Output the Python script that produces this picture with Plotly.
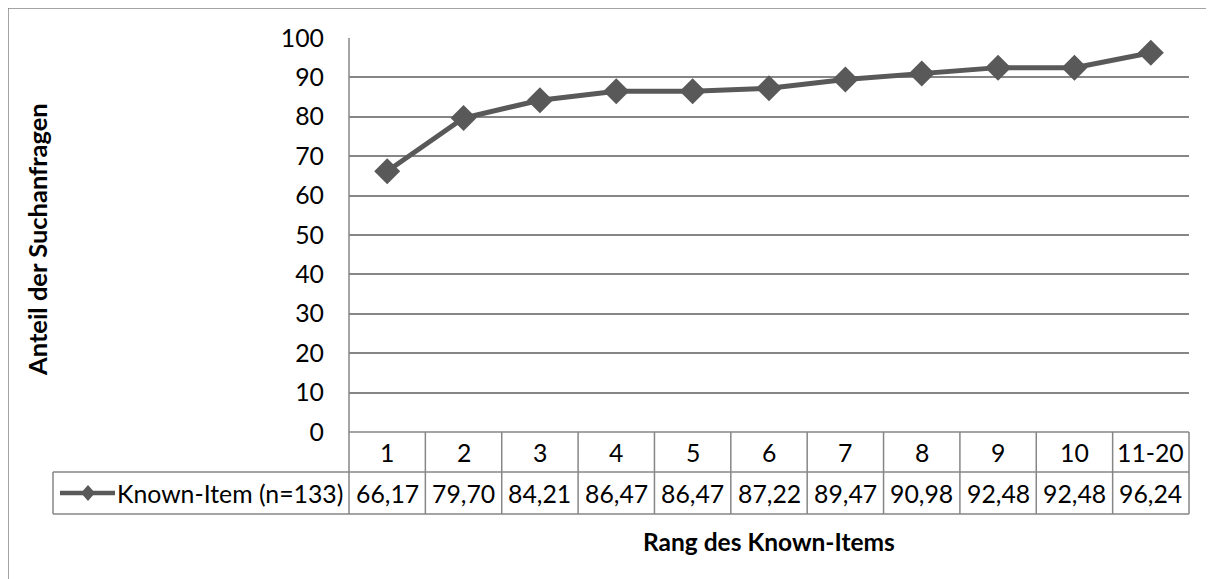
import plotly.graph_objects as go

categories = ["1", "2", "3", "4", "5", "6", "7", "8", "9", "10", "11-20"]
values = [66.17, 79.70, 84.21, 86.47, 86.47, 87.22, 89.47, 90.98, 92.48, 92.48, 96.24]
value_labels = ["66,17", "79,70", "84,21", "86,47", "86,47", "87,22", "89,47", "90,98", "92,48", "92,48", "96,24"]
series_name = "Known-Item (n=133)"
y_title = "Anteil der Suchanfragen"
x_title = "Rang des Known-Items"

W, H = 1214, 579
OFF = 8  # page body margin
PL, PR, PT, PB = 349, 1189, 38, 432  # plot area in screen px
ROW1, ROW2 = 472, 514               # table row bottoms
TABLE_LEFT = 53
GRID = "#868686"
LINE = "#595959"
FONT = "Lato, Calibri, Carlito, sans-serif"
FS = 24.8

def px(x):
    return (x - PL) / (PR - PL)

def py(y):
    return (PB - y) / (PB - PT)

n = len(categories)
colw = (PR - PL) / n

fig = go.Figure()
fig.add_trace(go.Scatter(
    x=list(range(n)), y=values, mode="lines+markers",
    line=dict(color=LINE, width=5),
    marker=dict(symbol="diamond", size=20, color=LINE),
    showlegend=False, cliponaxis=False,
))

shapes = []
annotations = []

def line(x0, y0, x1, y1, w=1.5, color=GRID):
    shapes.append(dict(type="line", xref="paper", yref="paper",
                       x0=px(x0), y0=py(y0), x1=px(x1), y1=py(y1),
                       line=dict(color=color, width=w)))

# outer frame (top and left)
line(8, 8, W + 20, 8, 1.5)
line(8, 8, 8, H + 20, 1.5)

# plot-area left line extending through table
line(PL, PT, PL, ROW2)
# table horizontals
line(PL, PB, PR, PB)
line(TABLE_LEFT, ROW1, PR, ROW1)
line(TABLE_LEFT, ROW2, PR, ROW2)
line(TABLE_LEFT, ROW1, TABLE_LEFT, ROW2)
for i in range(1, n + 1):
    xb = PL + i * colw
    line(xb, PB, xb, ROW2)

for i, (c, v) in enumerate(zip(categories, value_labels)):
    xc = PL + (i + 0.5) * colw
    annotations.append(dict(x=px(xc), y=py((PB + ROW1) / 2), xref="paper", yref="paper",
                            text=c, showarrow=False, xanchor="center", yanchor="middle",
                            font=dict(family=FONT, size=FS, color="#000")))
    annotations.append(dict(x=px(xc), y=py((ROW1 + ROW2) / 2), xref="paper", yref="paper",
                            text=v, showarrow=False, xanchor="center", yanchor="middle",
                            font=dict(family=FONT, size=FS, color="#000")))

# legend key in table
ym = (ROW1 + ROW2) / 2
line(60, ym, 115, ym, 4.5, LINE)
shapes.append(dict(type="path", xref="paper", yref="paper",
                   path="M {} {} L {} {} L {} {} L {} {} Z".format(
                       px(88), py(ym - 8), px(95), py(ym), px(88), py(ym + 8), px(81), py(ym)),
                   fillcolor=LINE, line=dict(width=0)))
annotations.append(dict(x=px(345), y=py(ym), xref="paper", yref="paper",
                        text=series_name, showarrow=False, xanchor="right", yanchor="middle",
                        font=dict(family=FONT, size=FS, color="#000")))

# axis titles
annotations.append(dict(x=px(769), y=py(541), xref="paper", yref="paper",
                        text="<b>" + x_title + "</b>", showarrow=False,
                        xanchor="center", yanchor="middle",
                        font=dict(family=FONT, size=24.5, color="#000")))
annotations.append(dict(x=px(37), y=py(240), xref="paper", yref="paper",
                        text="<b>" + y_title + "</b>", showarrow=False, textangle=-90,
                        xanchor="center", yanchor="middle",
                        font=dict(family=FONT, size=25.5, color="#000")))

fig.update_layout(
    width=W, height=H, autosize=False,
    margin=dict(l=PL - OFF, r=W - PR + OFF, t=PT - OFF, b=H - PB + OFF, pad=0),
    paper_bgcolor="white", plot_bgcolor="white",
    shapes=shapes, annotations=annotations,
    xaxis=dict(range=[-0.5, n - 0.5], showticklabels=False, showgrid=False,
               zeroline=False, showline=False, ticks=""),
    yaxis=dict(range=[0, 100], dtick=10, showgrid=True, gridcolor=GRID, gridwidth=1.5,
               zeroline=False, showline=False, ticks="", ticklabelstandoff=24,
               tickfont=dict(family=FONT, size=FS, color="#000")),
)

fig.write_html("out.html")
